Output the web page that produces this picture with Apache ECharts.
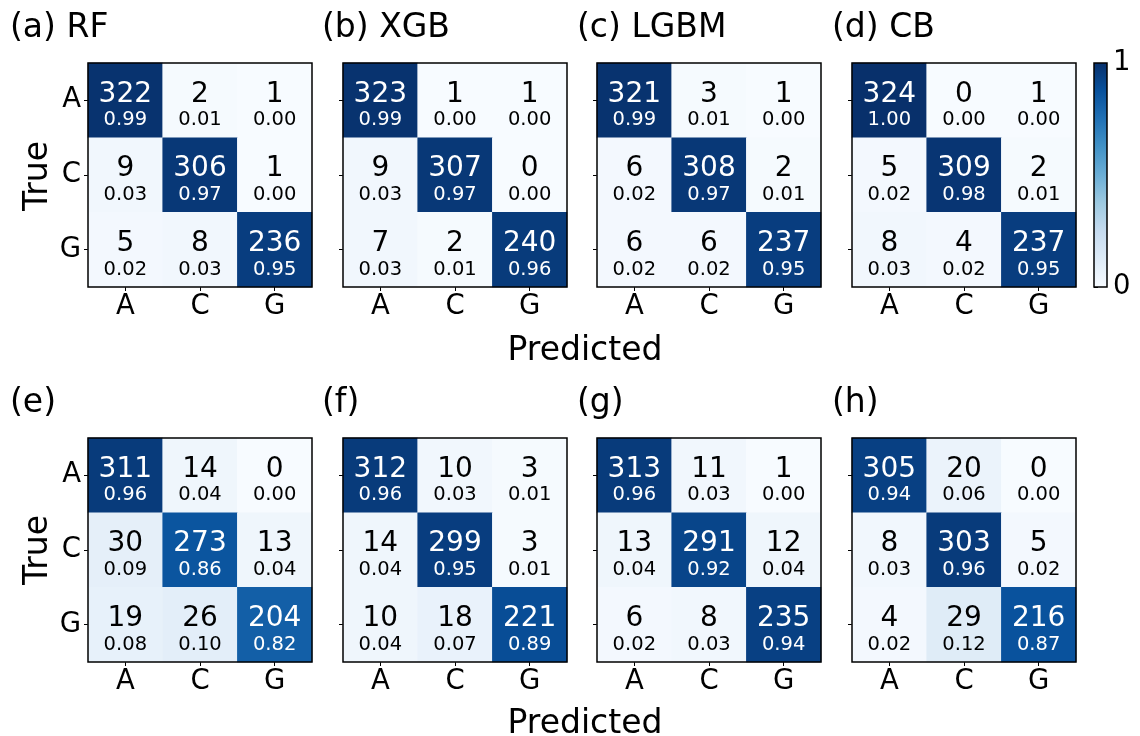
<!DOCTYPE html>
<html>
<head>
<meta charset="utf-8">
<title>Confusion matrices</title>
<script src="https://cdn.jsdelivr.net/npm/echarts@6/dist/echarts.min.js"></script>
<style>
html, body { margin: 0; padding: 0; background: #fff; }
#chart { width: 1140px; height: 736px; }
</style>
</head>
<body>
<div id="chart"></div>
<script>
var classes = ['A', 'C', 'G'];
var titles = ['(a) RF', '(b) XGB', '(c) LGBM', '(d) CB', '(e)', '(f)', '(g)', '(h)'];

// counts: rows = true class, columns = predicted class
var countsRF = [[322, 2, 1], [9, 306, 1], [5, 8, 236]];
var ratesRF = [[0.99, 0.01, 0.00], [0.03, 0.97, 0.00], [0.02, 0.03, 0.95]];
var countsXGB = [[323, 1, 1], [9, 307, 0], [7, 2, 240]];
var ratesXGB = [[0.99, 0.00, 0.00], [0.03, 0.97, 0.00], [0.03, 0.01, 0.96]];
var countsLGBM = [[321, 3, 1], [6, 308, 2], [6, 6, 237]];
var ratesLGBM = [[0.99, 0.01, 0.00], [0.02, 0.97, 0.01], [0.02, 0.02, 0.95]];
var countsCB = [[324, 0, 1], [5, 309, 2], [8, 4, 237]];
var ratesCB = [[1.00, 0.00, 0.00], [0.02, 0.98, 0.01], [0.03, 0.02, 0.95]];
var countsE = [[311, 14, 0], [30, 273, 13], [19, 26, 204]];
var ratesE = [[0.96, 0.04, 0.00], [0.09, 0.86, 0.04], [0.08, 0.10, 0.82]];
var countsF = [[312, 10, 3], [14, 299, 3], [10, 18, 221]];
var ratesF = [[0.96, 0.03, 0.01], [0.04, 0.95, 0.01], [0.04, 0.07, 0.89]];
var countsG = [[313, 11, 1], [13, 291, 12], [6, 8, 235]];
var ratesG = [[0.96, 0.03, 0.00], [0.04, 0.92, 0.04], [0.02, 0.03, 0.94]];
var countsH = [[305, 20, 0], [8, 303, 5], [4, 29, 216]];
var ratesH = [[0.94, 0.06, 0.00], [0.03, 0.96, 0.02], [0.02, 0.12, 0.87]];

var allCounts = [countsRF, countsXGB, countsLGBM, countsCB, countsE, countsF, countsG, countsH];
var allRates = [ratesRF, ratesXGB, ratesLGBM, ratesCB, ratesE, ratesF, ratesG, ratesH];
var colorbarRange = [0, 1];

var blues = ['#f7fbff', '#deebf7', '#c6dbef', '#9ecae1', '#6baed6', '#4292c6', '#2171b5', '#08519c', '#08306b'];
var font = 'DejaVu Sans';
var colLeft = [88, 343, 597, 852];
var rowTop = [63, 438];
var boxSize = 224;

var myChart = echarts.init(document.getElementById('chart'));

var grids = [], xAxes = [], yAxes = [], series = [], titleList = [];

for (var k = 0; k < 8; k++) {
    var col = k % 4, row = Math.floor(k / 4);
    grids.push({
        left: colLeft[col], top: rowTop[row], width: boxSize, height: boxSize,
        show: true, backgroundColor: 'transparent',
        borderColor: '#000', borderWidth: 1.5, z: 10
    });
    xAxes.push({
        gridIndex: k,
        type: 'category',
        data: classes,
        axisLine: { show: false },
        axisTick: { show: true, alignWithLabel: true, length: 4, lineStyle: { color: '#000', width: 1 } },
        axisLabel: { show: true, interval: 0, color: '#000', fontSize: 27.5, fontFamily: font, margin: 6 },
        splitLine: { show: false }
    });
    yAxes.push({
        gridIndex: k,
        type: 'category',
        data: classes,
        inverse: true,
        axisLine: { show: false },
        axisTick: { show: true, alignWithLabel: true, length: 4, lineStyle: { color: '#000', width: 1 } },
        axisLabel: { show: col === 0, interval: 0, color: '#000', fontSize: 27.5, fontFamily: font, margin: 7 },
        splitLine: { show: false }
    });
    var cells = [];
    for (var i = 0; i < 3; i++) {
        for (var j = 0; j < 3; j++) {
            cells.push([j, i, allRates[k][i][j], allCounts[k][i][j]]);
        }
    }
    series.push({
        type: 'heatmap',
        xAxisIndex: k,
        yAxisIndex: k,
        data: cells,
        emphasis: { disabled: true },
        label: {
            show: true,
            offset: [0, 6],
            formatter: function (p) {
                var w = p.data[2] > 0.5 ? 'w' : '';
                return '{c' + w + '|' + p.data[3] + '}\n{f' + w + '|' + p.data[2].toFixed(2) + '}';
            },
            rich: {
                c: { fontSize: 28, lineHeight: 28, color: '#000', fontFamily: font },
                cw: { fontSize: 28, lineHeight: 28, color: '#fff', fontFamily: font },
                f: { fontSize: 19.5, lineHeight: 24, color: '#000', fontFamily: font },
                fw: { fontSize: 19.5, lineHeight: 24, color: '#fff', fontFamily: font }
            }
        }
    });
    titleList.push({
        text: titles[k],
        left: [10, 322, 577, 832][col],
        top: row === 0 ? 12 : 387,
        padding: 0,
        textStyle: { fontSize: 33, fontWeight: 'normal', color: '#000', fontFamily: font }
    });
}

// colorbar
var stops = [];
for (var s = 0; s < blues.length; s++) {
    stops.push({ offset: 1 - s / (blues.length - 1), color: blues[s] });
}
grids.push({
    left: 1094, top: 63, width: 13, height: boxSize,
    show: true, borderColor: '#000', borderWidth: 1.5, z: 10,
    backgroundColor: { type: 'linear', x: 0, y: 0, x2: 0, y2: 1, colorStops: stops }
});
xAxes.push({ gridIndex: 8, type: 'value', show: false });
yAxes.push({
    gridIndex: 8,
    type: 'value',
    position: 'right',
    min: colorbarRange[0],
    max: colorbarRange[1],
    interval: 1,
    axisLine: { show: false },
    axisTick: { show: true, length: 4, lineStyle: { color: '#000', width: 1 } },
    axisLabel: { color: '#000', fontSize: 27.5, fontFamily: font, margin: 6 },
    splitLine: { show: false }
});

var option = {
    animation: false,
    backgroundColor: '#fff',
    title: titleList,
    grid: grids,
    xAxis: xAxes,
    yAxis: yAxes,
    visualMap: {
        type: 'continuous',
        show: false,
        min: 0,
        max: 1,
        dimension: 2,
        seriesIndex: [0, 1, 2, 3, 4, 5, 6, 7],
        inRange: { color: blues }
    },
    graphic: [
        { type: 'text', x: 38, y: 176, rotation: Math.PI / 2,
          style: { text: 'True', fontSize: 33, fontFamily: font, fill: '#000', align: 'center', verticalAlign: 'middle' } },
        { type: 'text', x: 38, y: 550, rotation: Math.PI / 2,
          style: { text: 'True', fontSize: 33, fontFamily: font, fill: '#000', align: 'center', verticalAlign: 'middle' } },
        { type: 'text', x: 585, y: 351,
          style: { text: 'Predicted', fontSize: 33, fontFamily: font, fill: '#000', align: 'center', verticalAlign: 'middle' } },
        { type: 'text', x: 585, y: 724,
          style: { text: 'Predicted', fontSize: 33, fontFamily: font, fill: '#000', align: 'center', verticalAlign: 'middle' } }
    ],
    series: series
};
myChart.setOption(option);
</script>
</body>
</html>
